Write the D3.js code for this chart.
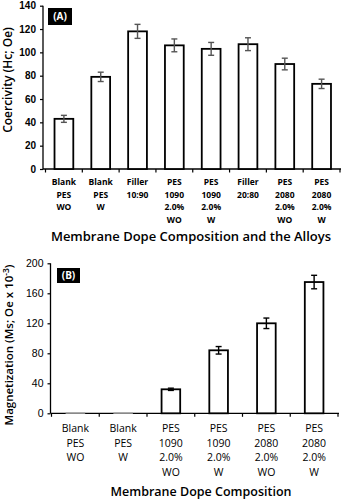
<!DOCTYPE html>
<html>
<head>
<meta charset="utf-8">
<script src="https://cdn.jsdelivr.net/npm/d3@7"></script>
<style>
  html, body { margin: 0; padding: 0; background: #fff; }
  svg { display: block; font-family: "Open Sans", "Noto Sans", sans-serif; }
</style>
</head>
<body>
<svg id="chart" width="343" height="500"></svg>
<script>
// Panel A: coercivity
const catsA = [
  ["Blank", "PES", "WO"],
  ["Blank", "PES", "W"],
  ["Filler", "10:90"],
  ["PES", "1090", "2.0%", "WO"],
  ["PES", "1090", "2.0%", "W"],
  ["Filler", "20:80"],
  ["PES", "2080", "2.0%", "WO"],
  ["PES", "2080", "2.0%", "W"]
];
const valuesA = [43, 79, 118, 106, 103, 107, 90, 73];
const errorsA = [3, 4, 6, 5.5, 5.5, 5.5, 5, 4];
const ticksA = [0, 20, 40, 60, 80, 100, 120, 140];

// Panel B: magnetization
const catsB = [
  ["Blank", "PES", "WO"],
  ["Blank", "PES", "W"],
  ["PES", "1090", "2.0%", "WO"],
  ["PES", "1090", "2.0%", "W"],
  ["PES", "2080", "2.0%", "WO"],
  ["PES", "2080", "2.0%", "W"]
];
const valuesB = [0.4, 0.4, 32, 84, 120, 175];
const errorsB = [0, 0, 1.5, 5, 7, 9];
const ticksB = [0, 40, 80, 120, 160, 200];

const svg = d3.select("#chart");

function panel(opt) {
  const g = svg.append("g");
  const idx = opt.values.map((_, i) => i);
  const x = d3.scaleBand().domain(idx).range(opt.xRange).paddingInner(opt.pad).paddingOuter(opt.pad / 2);
  const y = d3.scaleLinear().domain(opt.yDomain).range(opt.yRange);

  // y axis
  const ya = g.append("g")
    .attr("transform", `translate(${opt.axisX},0)`)
    .call(d3.axisLeft(y).tickValues(opt.ticks).tickSize(3).tickPadding(4));
  ya.select(".domain").attr("stroke", "#000").attr("stroke-width", 1.3)
    .attr("d", `M0,${opt.yRange[0]}V${opt.yRange[1]}`);
  ya.selectAll(".tick line").attr("stroke", "#000").attr("stroke-width", 1.2);
  ya.selectAll(".tick text").attr("fill", "#000")
    .style("font-size", opt.tickFont + "px").style("font-weight", opt.tickWeight);

  // x axis line with boundary ticks
  const y0 = y(0);
  g.append("line").attr("x1", opt.axisX).attr("x2", opt.xRange[1] + 1)
    .attr("y1", y0).attr("y2", y0).attr("stroke", "#000").attr("stroke-width", 1.3);
  const step = x.step();
  const bounds = d3.range(idx.length + 1).map(i => opt.xRange[0] + i * step);
  g.selectAll(".xb").data(bounds).join("line")
    .attr("x1", d => d).attr("x2", d => d)
    .attr("y1", y0).attr("y2", y0 + 3.5)
    .attr("stroke", "#000").attr("stroke-width", 1.2);

  // bars
  g.selectAll(".bar").data(idx).join("rect")
    .attr("x", i => x(i))
    .attr("width", x.bandwidth())
    .attr("y", i => y(opt.values[i]))
    .attr("height", i => y0 - y(opt.values[i]))
    .attr("fill", "#fff")
    .attr("stroke", i => opt.values[i] < 1 ? "#999" : "#000")
    .attr("stroke-width", i => opt.values[i] < 1 ? 1 : 1.8);

  // error bars
  const eb = g.selectAll(".err").data(idx.filter(i => opt.errors[i] > 0)).join("g")
    .attr("stroke", opt.errColor).attr("stroke-width", 1.4);
  eb.append("line")
    .attr("x1", i => x(i) + x.bandwidth() / 2).attr("x2", i => x(i) + x.bandwidth() / 2)
    .attr("y1", i => y(opt.values[i] - opt.errors[i])).attr("y2", i => y(opt.values[i] + opt.errors[i]));
  [1, -1].forEach(s => {
    eb.append("line")
      .attr("x1", i => x(i) + x.bandwidth() / 2 - 3).attr("x2", i => x(i) + x.bandwidth() / 2 + 3)
      .attr("y1", i => y(opt.values[i] + s * opt.errors[i])).attr("y2", i => y(opt.values[i] + s * opt.errors[i]));
  });

  // category labels
  const lab = g.selectAll(".cat").data(idx).join("text")
    .attr("text-anchor", "middle")
    .attr("fill", "#000")
    .style("font-size", opt.catFont + "px")
    .style("font-weight", opt.catWeight);
  lab.each(function (i) {
    d3.select(this).selectAll("tspan").data(opt.cats[i]).join("tspan")
      .attr("x", x(i) + x.bandwidth() / 2)
      .attr("y", (d, k) => opt.catY + k * opt.catLine)
      .text(d => d);
  });

  // axis titles
  g.append("text").attr("x", opt.xTitle[0]).attr("y", opt.xTitle[1])
    .attr("text-anchor", "middle").attr("fill", "#000")
    .style("font-size", opt.xTitleFont + "px").style("font-weight", 600)
    .text(opt.xTitleText);
  const yt = g.append("text")
    .attr("transform", `translate(${opt.yTitle[0]},${opt.yTitle[1]}) rotate(-90)`)
    .attr("text-anchor", "middle").attr("fill", "#000")
    .style("font-size", opt.yTitleFont + "px").style("font-weight", 600);
  opt.yTitleParts.forEach(p => {
    const t = yt.append("tspan").text(p.t);
    if (p.sup) t.attr("dy", -4).style("font-size", (opt.yTitleFont - 3) + "px");
    if (p.down) t.attr("dy", 4);
  });

  // panel tag
  g.append("rect").attr("x", opt.tag[0]).attr("y", opt.tag[1])
    .attr("width", opt.tag[2]).attr("height", opt.tag[3]).attr("fill", "#000");
  g.append("text").attr("x", opt.tag[0] + opt.tag[2] / 2).attr("y", opt.tag[1] + opt.tag[3] / 2 + 3.5)
    .attr("text-anchor", "middle").attr("fill", "#fff")
    .style("font-size", "10px").style("font-weight", 700)
    .text(opt.tagText);
}

panel({
  values: valuesA, errors: errorsA, cats: catsA, ticks: ticksA,
  xRange: [45.5, 340], yDomain: [0, 140], yRange: [169, 5.7], axisX: 43, pad: 0.49,
  tickFont: 10, tickWeight: 700, catFont: 8.5, catWeight: 700, catY: 185, catLine: 12.7,
  errColor: "#555",
  xTitle: [191, 241], xTitleFont: 13, xTitleText: "Membrane Dope Composition and the Alloys",
  yTitle: [12, 80], yTitleFont: 12, yTitleParts: [{ t: "Coercivity (Hc; Oe)" }],
  tag: [48, 8, 24, 17], tagText: "(A)"
});

panel({
  values: valuesB, errors: errorsB, cats: catsB, ticks: ticksB,
  xRange: [51.5, 338], yDomain: [0, 200], yRange: [413.3, 263.3], axisX: 50.5, pad: 0.61,
  tickFont: 10.5, tickWeight: 400, catFont: 10.5, catWeight: 400, catY: 432, catLine: 14.5,
  errColor: "#000",
  xTitle: [201, 496], xTitleFont: 12.5, xTitleText: "Membrane Dope Composition",
  yTitle: [13, 345], yTitleFont: 11.5, yTitleParts: [{ t: "Magnetization  (Ms; Oe x 10" }, { t: "-3", sup: true }, { t: ")", down: true }],
  tag: [57, 268, 23, 15], tagText: "(B)"
});
</script>
</body>
</html>
